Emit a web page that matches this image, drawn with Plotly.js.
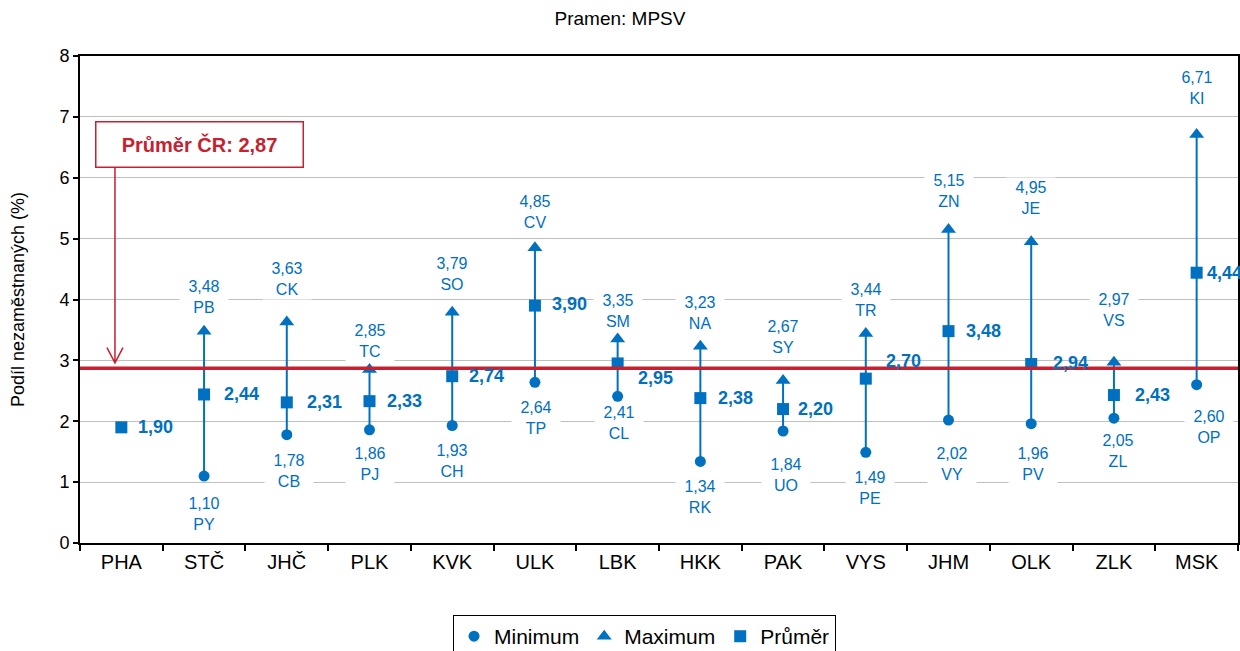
<!DOCTYPE html>
<html>
<head>
<meta charset="utf-8">
<script src="https://cdn.plot.ly/plotly-3.0.1.min.js"></script>
<style>html,body{margin:0;padding:0;background:#fff;}#chart{width:1240px;height:651px;}</style>
</head>
<body>
<div id="chart"></div>
<script>
// ---- data ----
const categories = ['PHA','STČ','JHČ','PLK','KVK','ULK','LBK','HKK','PAK','VYS','JHM','OLK','ZLK','MSK'];
const minValues  = [null,1.10,1.78,1.86,1.93,2.64,2.41,1.34,1.84,1.49,2.02,1.96,2.05,2.60];
const minCodes   = [null,'PY','CB','PJ','CH','TP','CL','RK','UO','PE','VY','PV','ZL','OP'];
const maxValues  = [null,3.48,3.63,2.85,3.79,4.85,3.35,3.23,2.67,3.44,5.15,4.95,2.97,6.71];
const maxCodes   = [null,'PB','CK','TC','SO','CV','SM','NA','SY','TR','ZN','JE','VS','KI'];
const meanValues = [1.90,2.44,2.31,2.33,2.74,3.90,2.95,2.38,2.20,2.70,3.48,2.94,2.43,4.44];
const czAverage  = 2.87;

// ---- label placement (pixels, styling only) ----
const maxLabelShift = [0,34,43,29,38,36,28,33,43,34,38,44,52,47];
const minLabelShift = [0,38,36,34,35,36,27,36,44,36,44,40,33,42];
const minLabelX     = [0,0,2,0,0,1,1,0,3,4,3,2,4,12];
const meanLabelX    = [15,18,18,15,15,15,18,16,13,18,15,20,19,8];
const meanLabelY    = [0,0,0,0,0,2,-15,0,0,18,0,1,0,0];

const BLUE = '#0070C0';
const RED = '#C42230';
const FONT = 'Liberation Sans, Arial, sans-serif';
const fmt = v => v.toFixed(2).replace('.', ',');

// vertical range lines
const lx = [], ly = [];
categories.forEach((c, i) => {
  if (minValues[i] !== null && maxValues[i] !== null) {
    lx.push(c, c, null); ly.push(minValues[i], maxValues[i], null);
  }
});

const traces = [
  {x: lx, y: ly, mode: 'lines', line: {color: BLUE, width: 2}, showlegend: false, hoverinfo: 'skip'},
  {x: categories, y: minValues, name: 'Minimum', mode: 'markers', marker: {symbol: 'circle', size: 11, color: BLUE}},
  {x: categories, y: maxValues, name: 'Maximum', mode: 'markers', marker: {symbol: 'triangle-up', size: 13, color: BLUE}},
  {x: categories, y: meanValues, name: 'Průměr', mode: 'markers', marker: {symbol: 'square', size: 12, color: BLUE}}
];

const annotations = [];
categories.forEach((c, i) => {
  if (maxValues[i] !== null) {
    annotations.push({x: c, y: maxValues[i], xref: 'x', yref: 'y', text: fmt(maxValues[i]) + '<br>' + maxCodes[i],
      showarrow: false, yshift: maxLabelShift[i], bgcolor: '#ffffff', width: 46, borderpad: 1,
      font: {family: FONT, size: 16, color: BLUE}});
  }
  if (minValues[i] !== null) {
    annotations.push({x: c, y: minValues[i], xref: 'x', yref: 'y', text: fmt(minValues[i]) + '<br>' + minCodes[i],
      showarrow: false, yshift: -minLabelShift[i], xshift: minLabelX[i], bgcolor: '#ffffff', width: 46, borderpad: 1,
      font: {family: FONT, size: 16, color: BLUE}});
  }
  annotations.push({x: c, y: meanValues[i], xref: 'x', yref: 'y', text: '<b>' + fmt(meanValues[i]) + '</b>',
    showarrow: false, xanchor: 'left', xshift: meanLabelX[i], yshift: meanLabelY[i],
    font: {family: FONT, size: 18, color: BLUE}});
});
annotations.push({
  x: 0.1035, y: 0.819, xref: 'paper', yref: 'paper', xanchor: 'center', yanchor: 'middle',
  text: '<b>Průměr ČR: ' + fmt(czAverage) + '</b>', showarrow: false,
  width: 202, height: 40, borderpad: 2, bordercolor: RED, borderwidth: 1.5, bgcolor: '#ffffff',
  font: {family: FONT, size: 20, color: RED}
});

const shapes = [
  {type: 'line', xref: 'paper', x0: 0, x1: 1, yref: 'y', y0: czAverage, y1: czAverage,
   line: {color: RED, width: 3.5}, layer: 'above'},
  {type: 'path', xref: 'paper', yref: 'y', layer: 'above',
   path: 'M 0.0302 6.18 L 0.0302 2.96 M 0.0233 3.21 L 0.0302 2.96 L 0.0371 3.21',
   line: {color: RED, width: 1.5}}
];

const layout = {
  width: 1240, height: 651,
  margin: {l: 80, r: 2, t: 56, b: 108, autoexpand: false},
  paper_bgcolor: '#ffffff', plot_bgcolor: '#ffffff',
  font: {family: FONT, color: '#000000'},
  title: {text: 'Pramen: MPSV', font: {size: 19, color: '#000'}, x: 0.5, xanchor: 'center',
          y: 0.972, yref: 'container', yanchor: 'middle'},
  xaxis: {type: 'category', categoryorder: 'array', categoryarray: categories, range: [-0.5, 13.5],
          tickson: 'boundaries', ticks: 'outside', ticklen: 6,
          tickwidth: 2, tickcolor: '#000', showline: true, linecolor: '#000', linewidth: 2, mirror: true,
          showgrid: false, tickfont: {size: 20, color: '#000'}, fixedrange: true, automargin: false},
  yaxis: {range: [0, 8], dtick: 1, ticks: 'outside', ticklen: 5, tickwidth: 2, tickcolor: '#000',
          showline: true, linecolor: '#000', linewidth: 2, mirror: true, showgrid: true, automargin: false,
          gridcolor: '#BFBFBF', gridwidth: 1, zeroline: false, tickfont: {size: 18, color: '#000'},
          title: {text: 'Podíl nezaměstnaných (%)', font: {size: 18, color: '#000'}, standoff: 30}},
  legend: {orientation: 'h', x: 0.4875, xanchor: 'center', y: -0.148, yanchor: 'top',
           bordercolor: '#000', borderwidth: 1, font: {size: 21, color: '#000'}},
  showlegend: true,
  annotations: annotations,
  shapes: shapes
};

Plotly.newPlot('chart', traces, layout, {displayModeBar: false, staticPlot: true});
</script>
</body>
</html>
